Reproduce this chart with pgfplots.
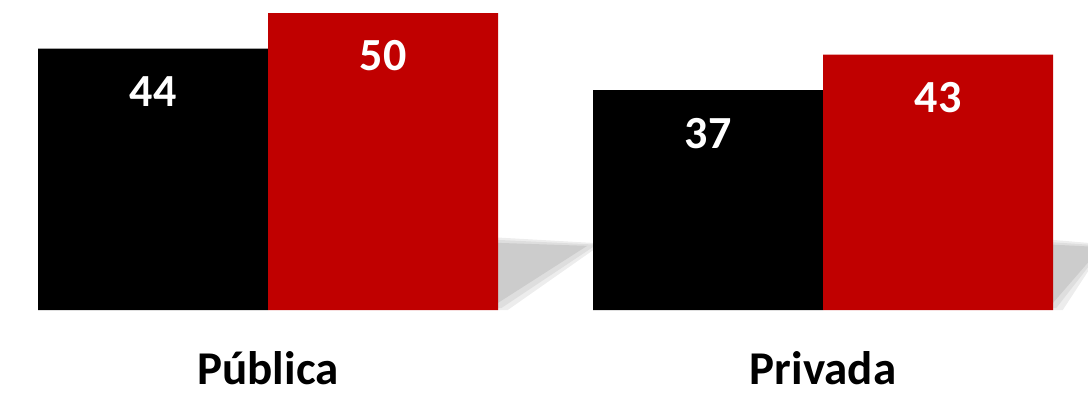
\documentclass[border=0pt]{standalone}
\usepackage{pgfplots}
\pgfplotsset{compat=1.18}
\usepackage{fontspec}
\setmainfont{Carlito}
\definecolor{barred}{HTML}{C00000}
\begin{document}
\begin{tikzpicture}
\begin{axis}[
  scale only axis,
  width=1088bp, height=310bp,
  xmin=-0.48288, xmax=1.47748,
  ymin=0, ymax=52.19,
  axis lines=none,
  clip=false,
  ybar=0pt,
  bar width=230bp,
  xtick={0,1},
  xticklabels={Pública,Privada},
  /pgf/number format/assume math mode=true,
  nodes near coords,
  nodes near coords style={anchor=center, yshift=-43bp, text=white,
     font=\fontsize{46bp}{50bp}\selectfont\bfseries},
]
% soft floor shadows
\fill[black!7] (axis cs:0.4144,12.2) -- (axis cs:0.603,11.2) -- (axis cs:0.4320,0) -- (axis cs:0.4144,0) -- cycle;
\fill[black!13] (axis cs:0.4144,11.8) -- (axis cs:0.592,11.0) -- (axis cs:0.4200,0.3) -- (axis cs:0.4144,0.3) -- cycle;
\fill[black!20] (axis cs:0.4144,11.3) -- (axis cs:0.575,10.8) -- (axis cs:0.4144,1.2) -- cycle;
\fill[black!7] (axis cs:1.4144,11.8) -- (axis cs:1.4775,11.3) -- (axis cs:1.4775,6.5) -- (axis cs:1.4320,0) -- (axis cs:1.4144,0) -- cycle;
\fill[black!13] (axis cs:1.4144,11.4) -- (axis cs:1.4775,11.0) -- (axis cs:1.4775,7.2) -- (axis cs:1.4200,0.3) -- (axis cs:1.4144,0.3) -- cycle;
\fill[black!20] (axis cs:1.4144,11.0) -- (axis cs:1.4775,10.7) -- (axis cs:1.4775,8.0) -- (axis cs:1.4144,1.2) -- cycle;
\addplot[fill=black, draw=none] coordinates {(0,44) (1,37)};
\addplot[fill=barred, draw=none] coordinates {(0,50) (1,43)};
\coordinate (sw) at (rel axis cs:0,0);
\coordinate (ne) at (rel axis cs:1,1);
\end{axis}
\path (sw) ++(268bp,-74bp) node[anchor=base, inner sep=0pt, font=\fontsize{47bp}{50bp}\selectfont\bfseries] {Pública};
\path (sw) ++(823bp,-74bp) node[anchor=base, inner sep=0pt, font=\fontsize{47bp}{50bp}\selectfont\bfseries] {Privada};
\pgfresetboundingbox
\path[use as bounding box] (sw) ++(0,-83bp) rectangle (ne);
\end{tikzpicture}
\end{document}
